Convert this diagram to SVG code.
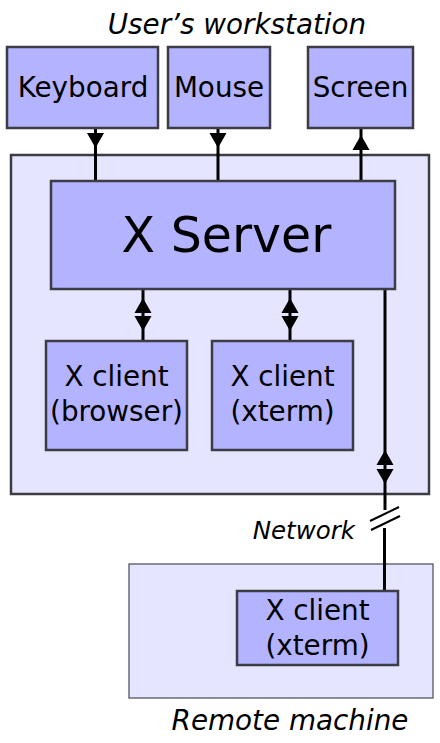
<svg xmlns="http://www.w3.org/2000/svg" width="440" height="743" viewBox="0 0 440 743">
<defs>
<style>
text{font-family:"DejaVu Sans","Liberation Sans",sans-serif;fill:#000;text-anchor:middle}
.it{font-style:italic}
.lbl{font-size:27.8px}
.cont{fill:#e5e5ff;stroke:#3c3c44;stroke-width:2.5}
.cont2{fill:#e5e5ff;stroke:#555560;stroke-width:1.3}
.node{fill:#b3b3ff;stroke:#3c3c44;stroke-width:2.5}
.ln{stroke:#000;stroke-width:3;fill:none}
.brk{stroke:#000;stroke-width:2;fill:none}
.ah{fill:#000}
</style>
<path id="dn" d="M-8.5,-15 L8.5,-15 L0,0 Z"/>
<path id="up" d="M0,0 L8.5,15 L-8.5,15 Z"/>
</defs>

<g id="workstation">
<rect class="cont" x="11" y="155" width="418" height="339"/>
<text class="it lbl" x="237" y="34">User’s workstation</text>
</g>
<g id="remote">
<rect class="cont2" x="129" y="564" width="304" height="134"/>
<text class="it lbl" x="290" y="730">Remote machine</text>
</g>

<g id="connectors">
<line class="ln" x1="95.5" y1="128" x2="95.5" y2="181"/>
<line class="ln" x1="218" y1="128" x2="218" y2="181"/>
<line class="ln" x1="361" y1="128" x2="361" y2="181"/>
<line class="ln" x1="143" y1="289" x2="143" y2="341"/>
<line class="ln" x1="290" y1="289" x2="290" y2="341"/>
<line class="ln" x1="385" y1="289" x2="385" y2="510"/>
<line class="ln" x1="384.5" y1="528" x2="384.5" y2="591"/>
<use href="#dn" class="ah" x="95.5" y="148"/>
<use href="#dn" class="ah" x="218" y="148"/>
<use href="#up" class="ah" x="361" y="135"/>
<use href="#up" class="ah" x="143" y="298"/>
<use href="#dn" class="ah" x="143" y="331"/>
<use href="#up" class="ah" x="290" y="298"/>
<use href="#dn" class="ah" x="290" y="331"/>
<use href="#up" class="ah" x="385" y="450"/>
<use href="#dn" class="ah" x="385" y="484"/>
<line class="brk" x1="370" y1="521" x2="399" y2="507"/>
<line class="brk" x1="371" y1="530" x2="400" y2="516"/>
<text class="it" x="355" y="539" style="font-size:24.5px;text-anchor:end">Network</text>
</g>

<g id="keyboard">
<rect class="node" x="7" y="47" width="151" height="81"/>
<text class="lbl" x="83" y="97">Keyboard</text>
</g>
<g id="mouse">
<rect class="node" x="168" y="47" width="102" height="81"/>
<text class="lbl" x="219" y="97">Mouse</text>
</g>
<g id="screen">
<rect class="node" x="308" y="47" width="105" height="81"/>
<text class="lbl" x="360.5" y="97">Screen</text>
</g>
<g id="xserver">
<rect class="node" x="51" y="181" width="344" height="108"/>
<text x="226.5" y="252" style="font-size:49px">X Server</text>
</g>
<g id="client-browser">
<rect class="node" x="46" y="341" width="141" height="109"/>
<text class="lbl" x="116.5" y="386">X client</text>
<text class="lbl" x="116.5" y="421">(browser)</text>
</g>
<g id="client-xterm">
<rect class="node" x="212" y="341" width="141" height="109"/>
<text class="lbl" x="282.5" y="386">X client</text>
<text class="lbl" x="282.5" y="421">(xterm)</text>
</g>
<g id="client-remote">
<rect class="node" x="237" y="591" width="161" height="74"/>
<text class="lbl" x="317.5" y="620">X client</text>
<text class="lbl" x="317.5" y="655">(xterm)</text>
</g>
</svg>
